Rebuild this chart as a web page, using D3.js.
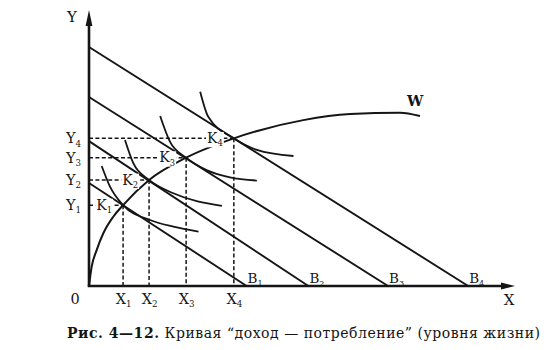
<!DOCTYPE html>
<html>
<head>
<meta charset="utf-8">
<script src="https://cdn.jsdelivr.net/npm/d3@7"></script>
<style>
  body { margin: 0; background: #fff; }
  svg { display: block; }
  svg text { font-family: "DejaVu Serif", "Liberation Serif", serif; fill: #151515; }
</style>
</head>
<body>
<svg id="chart" width="559" height="350"></svg>
<script>
// Budget lines B1..B4: intercepts on the X and Y axes
const budgetNames = ["B₁", "B₂", "B₃", "B₄"];
const budgetX = [37, 51.5, 70.2, 89];
const budgetY = [37.3, 52.5, 68.5, 86.6];

// Tangency points K1..K4 (consumer optimum for each income level)
const pointNames = ["K₁", "K₂", "K₃", "K₄"];
const pointX = [8.0, 14.1, 22.8, 34.0];
const pointY = [29.3, 38.4, 46.5, 53.5];

// Axis labels
const xTickLabels = ["X₁", "X₂", "X₃", "X₄"];
const yTickLabels = ["Y₁", "Y₂", "Y₃", "Y₄"];

// Indifference curves, one through each tangency point
const indiff1 = [[2.98, 43.5], [4.93, 36.0], [8.0, 29.3], [14.3, 23.9], [19.8, 21.5], [25.7, 19.7]];
const indiff2 = [[8.45, 52.9], [10.4, 44.5], [14.1, 38.4], [19.8, 33.6], [31.2, 29.0]];
const indiff3 = [[16.7, 61.6], [19.0, 52.3], [22.8, 46.5], [27.6, 42.0], [33.1, 39.4], [39.4, 38.2]];
const indiff4 = [[26.1, 70.4], [28.0, 61.3], [34.0, 53.5], [39.4, 49.3], [48.0, 47.1]];

// Income–consumption curve W
const incomeCurve = [[0, 0], [0.63, 7.0], [1.8, 13.0], [3.36, 19.1], [5.7, 25.1], [8.0, 29.3],
  [14.1, 38.4], [22.8, 46.5], [34.0, 53.5], [50.3, 60.1], [61.3, 62.3], [73.0, 62.8], [77.7, 61.6]];
const curveName = "W";

const caption = ["Рис. 4—12.", " Кривая “доход — потребление” (уровня жизни)"];

const svg = d3.select("#chart");
const x = d3.scaleLinear().domain([0, 100]).range([89, 515]);
const y = d3.scaleLinear().domain([0, 100]).range([286, 10]);
const ink = "#151515";

// Draws "X₁"-style text as a letter plus a smaller lowered index
function subLabel(sel, label, size) {
  const subs = { "₁": "1", "₂": "2", "₃": "3", "₄": "4" };
  sel.text(null);
  sel.append("tspan").text(label[0]);
  sel.append("tspan").attr("font-size", size * 0.6).attr("dy", size * 0.24)
    .text(subs[label[1]] || label.slice(1));
}

// Tick labels via d3 axes (no tick marks, no domain line)
const gx = svg.append("g").attr("transform", `translate(0,${y(0)})`)
  .call(d3.axisBottom(x).tickValues(pointX).tickSize(0).tickPadding(0).tickFormat((d, i) => xTickLabels[i]));
gx.attr("font-family", null).select(".domain").remove();
gx.selectAll("text").attr("dy", null).attr("y", 18).attr("font-size", 14.5)
  .each(function (d, i) { subLabel(d3.select(this), xTickLabels[i], 14.5); });

const gy = svg.append("g").attr("transform", `translate(${x(0)},0)`)
  .call(d3.axisLeft(y).tickValues(pointY).tickSize(0).tickPadding(0).tickFormat((d, i) => yTickLabels[i]));
gy.attr("font-family", null).select(".domain").remove();
gy.selectAll("text").attr("x", -8).attr("dy", "0.3em").attr("font-size", 14.5)
  .attr("text-anchor", "end")
  .each(function (d, i) { subLabel(d3.select(this), yTickLabels[i], 14.5); });

// Dashed projections from each tangency point to both axes
const dashed = svg.append("g").attr("stroke", ink).attr("stroke-width", 1.5)
  .attr("stroke-dasharray", "4,2.4").attr("fill", "none");
pointX.forEach((px, i) => {
  dashed.append("line").attr("x1", x(0)).attr("y1", y(pointY[i])).attr("x2", x(px)).attr("y2", y(pointY[i]));
  dashed.append("line").attr("x1", x(px)).attr("y1", y(pointY[i])).attr("x2", x(px)).attr("y2", y(0));
});

// Budget lines
svg.append("g").selectAll("line").data(budgetX).join("line")
  .attr("x1", x(0)).attr("y1", (d, i) => y(budgetY[i]))
  .attr("x2", d => x(d)).attr("y2", y(0))
  .attr("stroke", ink).attr("stroke-width", 1.9);

// Indifference curves
const curveLine = d3.line().x(d => x(d[0])).y(d => y(d[1])).curve(d3.curveMonotoneX);
svg.append("g").selectAll("path").data([indiff1, indiff2, indiff3, indiff4]).join("path")
  .attr("d", curveLine).attr("fill", "none").attr("stroke", ink).attr("stroke-width", 1.8);

// Income–consumption curve
svg.append("path").datum(incomeCurve).attr("d", curveLine)
  .attr("fill", "none").attr("stroke", ink).attr("stroke-width", 2);

// Axes with arrowheads
svg.append("line").attr("x1", x(0)).attr("y1", y(0)).attr("x2", x(0)).attr("y2", y(100) + 12)
  .attr("stroke", ink).attr("stroke-width", 2.6);
svg.append("line").attr("x1", x(0) - 1.3).attr("y1", y(0)).attr("x2", x(100) - 10).attr("y2", y(0))
  .attr("stroke", ink).attr("stroke-width", 2.6);
svg.append("path")
  .attr("d", `M${x(0)},${y(100)} L${x(0) - 3.4},${y(100) + 16} L${x(0) + 3.4},${y(100) + 16} Z`)
  .attr("fill", ink);
svg.append("path")
  .attr("d", `M${x(100)},${y(0)} L${x(100) - 14},${y(0) - 3.4} L${x(100) - 14},${y(0) + 3.4} Z`)
  .attr("fill", ink);

// Axis names and origin
svg.append("text").attr("x", x(0) - 17).attr("y", y(100) + 12).attr("font-size", 15)
  .attr("text-anchor", "middle").text("Y");
svg.append("text").attr("x", x(100) - 6).attr("y", y(0) + 19).attr("font-size", 15)
  .attr("text-anchor", "middle").text("X");
svg.append("text").attr("x", x(0) - 14).attr("y", y(0) + 18).attr("font-size", 14.5)
  .attr("text-anchor", "middle").text("0");

// Budget line names
svg.append("g").selectAll("text").data(budgetX).join("text")
  .attr("x", d => x(d) + 1).attr("y", y(0) - 3).attr("font-size", 13.5)
  .each(function (d, i) { subLabel(d3.select(this), budgetNames[i], 13.5); });

// Tangency point names sitting on the dashed lines
pointX.forEach((px, i) => {
  const g = svg.append("g");
  const t = g.append("text").attr("x", x(px) - 11).attr("y", y(pointY[i])).attr("dy", "0.33em")
    .attr("font-size", 14).attr("text-anchor", "end");
  subLabel(t, pointNames[i], 14);
  const b = t.node().getBBox();
  g.insert("rect", "text").attr("x", b.x - 1).attr("y", b.y + 2).attr("width", b.width + 2)
    .attr("height", b.height - 3).attr("fill", "#fff");
});

// Curve name
const last = incomeCurve[incomeCurve.length - 1];
svg.append("text").attr("x", x(last[0]) - 13).attr("y", y(last[1]) - 10)
  .attr("font-size", 14.5).attr("font-weight", "bold").text(curveName);

// Caption
const cap = svg.append("text").attr("x", 67).attr("y", 338).attr("font-size", 14)
  .attr("textLength", 473).attr("lengthAdjust", "spacing");
cap.append("tspan").attr("font-weight", "bold").text(caption[0]);
cap.append("tspan").text(caption[1]);
</script>
</body>
</html>
